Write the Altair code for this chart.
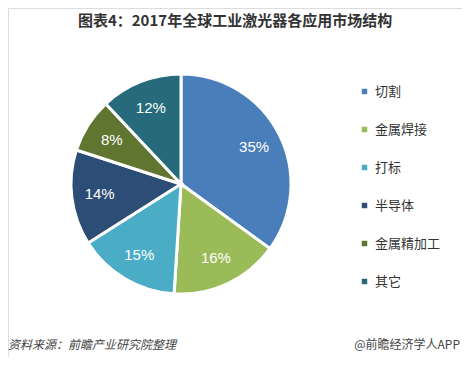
import altair as alt
import pandas as pd

categories = ["切割", "金属焊接", "打标", "半导体", "金属精加工", "其它"]
values = [35, 16, 15, 14, 8, 12]
colors = ["#4A7EBB", "#9BBB59", "#4BACC6", "#2C4D75", "#5F7530", "#276A7C"]

df = pd.DataFrame({
    "cat": categories,
    "val": values,
    "idx": list(range(len(categories))),
    "label": [f"{v}%" for v in values],
})

FONT = "Noto Sans CJK SC"
CX, CY, R = 173, 176, 110

color_scale = alt.Scale(domain=categories, range=colors)

base = alt.Chart(df).encode(
    theta=alt.Theta("val:Q", stack=True),
    order=alt.Order("idx:Q"),
)

arcs = base.mark_arc(
    outerRadius=R, stroke="white", strokeWidth=3
).encode(
    x=alt.value(CX), y=alt.value(CY),
    color=alt.Color("cat:N", scale=color_scale, sort=categories,
                    legend=alt.Legend(
                        title=None, orient="none", legendX=350, legendY=77,
                        symbolType="square", symbolSize=30, symbolStrokeWidth=0,
                        labelFont=FONT, labelFontSize=13, labelColor="#333333",
                        rowPadding=24, labelOffset=4, labelLimit=200,
                    )),
)

texts = base.mark_text(
    radius=82, font="Liberation Sans", fontSize=15, color="white"
).encode(
    x=alt.value(CX), y=alt.value(CY),
    text="label:N",
)

title_df = pd.DataFrame({"t": ["图表4：2017年全球工业激光器各应用市场结构"]})
title = alt.Chart(title_df).mark_text(
    font=FONT, fontSize=15, fontWeight="bold", color="#333333", align="center"
).encode(x=alt.value(227), y=alt.value(13), text="t:N")

src_df = pd.DataFrame({"t": ["资料来源：前瞻产业研究院整理"]})
src = alt.Chart(src_df).mark_text(
    font=FONT, fontSize=12, fontStyle="italic", color="#444444", align="left"
).encode(x=alt.value(0), y=alt.value(337), text="t:N")

app_df = pd.DataFrame({"t": ["@前瞻经济学人APP"]})
app = alt.Chart(app_df).mark_text(
    font=FONT, fontSize=12, color="#444444", align="right"
).encode(x=alt.value(452), y=alt.value(337), text="t:N")

chart = alt.layer(arcs, texts, title, src, app).properties(
    width=454, height=349,
    autosize=alt.AutoSizeParams(type="none"),
    padding=0,
).configure_view(stroke=None).configure(background="white")

chart.save("out.html", embed_options={"renderer": "svg", "actions": False})
